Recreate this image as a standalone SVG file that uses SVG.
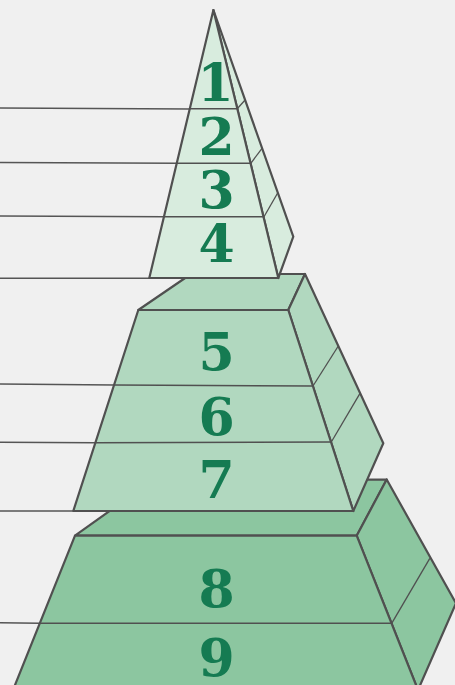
<svg xmlns="http://www.w3.org/2000/svg" width="455" height="685" viewBox="0 0 455 685">
<style>
.bg{fill:#f0f0f0}
.ol{stroke:#505050;stroke-width:2.2;stroke-linejoin:round}
.sep{stroke:#505050;stroke-width:1.6;fill:none}
.div{stroke:#505050;stroke-width:1.3;fill:none}
.lead{stroke:#555555;stroke-width:1.6;fill:none}
.t1{fill:#d8ecde}
.t2{fill:#b1d8bf}
.t3{fill:#8cc6a0}
.num{font-family:"DejaVu Serif","Liberation Serif",serif;font-weight:bold;font-size:52px;fill:#157b52;text-anchor:middle}
</style>
<rect class="bg" x="0" y="0" width="455" height="685"/>
<g id="connectors">
<line class="lead" x1="0" y1="108" x2="190" y2="109"/>
<line class="lead" x1="0" y1="162.5" x2="177" y2="163.3"/>
<line class="lead" x1="0" y1="216" x2="164" y2="216.7"/>
<line class="lead" x1="0" y1="278.3" x2="149.3" y2="278.3"/>
<line class="lead" x1="0" y1="384" x2="114.3" y2="385"/>
<line class="lead" x1="0" y1="442.3" x2="95.5" y2="442.7"/>
<line class="lead" x1="0" y1="511" x2="73.3" y2="511"/>
<line class="lead" x1="0" y1="622.8" x2="40" y2="623.3"/>
</g>
<g id="tier-bottom">
<polygon class="t3 ol" points="75,535.7 153,480 386.7,479.5 356.7,535.7"/>
<polygon class="t3 ol" points="356.7,535.7 386.7,479.5 456,603.3 418,690"/>
<polygon class="t3 ol" points="75,535.7 356.7,535.7 418,690 13,690"/>
<line class="sep" x1="40" y1="623.3" x2="391.7" y2="623.3"/>
<line class="div" x1="391.7" y1="623.3" x2="429.8" y2="558.3"/>
<text class="num" x="216.5" y="606.5">8</text>
<text class="num" x="216.5" y="675.5">9</text>
</g>
<g id="tier-middle">
<polygon class="t2 ol" points="138.3,310 191,274 305,274 288.3,310"/>
<polygon class="t2 ol" points="288.3,310 305,274 383.3,443.3 353.3,511"/>
<polygon class="t2 ol" points="138.3,310 288.3,310 353.3,511 73.3,511"/>
<line class="sep" x1="114.3" y1="385" x2="313" y2="386"/>
<line class="sep" x1="95.5" y1="442.7" x2="331.3" y2="442"/>
<line class="div" x1="313" y1="386" x2="338.3" y2="346"/>
<line class="div" x1="331.3" y1="442" x2="360" y2="393.3"/>
<text class="num" x="216.5" y="369.5">5</text>
<text class="num" x="216.5" y="434.5">6</text>
<text class="num" x="216.5" y="497.5">7</text>
</g>
<g id="tier-top">
<polygon class="t1 ol" points="213.4,10 293.3,236.7 278.3,278 "/>
<polygon class="t1 ol" points="213.4,10 278.3,278 149.3,278"/>
<line class="sep" x1="189.8" y1="108.7" x2="237.2" y2="108.7"/>
<line class="sep" x1="176.8" y1="163.3" x2="250.8" y2="163.3"/>
<line class="sep" x1="164" y1="216.7" x2="264" y2="216.7"/>
<line class="div" x1="237.2" y1="108.7" x2="245.1" y2="100"/>
<line class="div" x1="250.8" y1="163.3" x2="262" y2="148.3"/>
<line class="div" x1="264" y1="216.7" x2="277.8" y2="192.7"/>
<text class="num" x="215.5" y="100.5">1</text>
<text class="num" x="216.5" y="155">2</text>
<text class="num" x="216.5" y="207.5">3</text>
<text class="num" x="216.5" y="262">4</text>
</g>
</svg>
